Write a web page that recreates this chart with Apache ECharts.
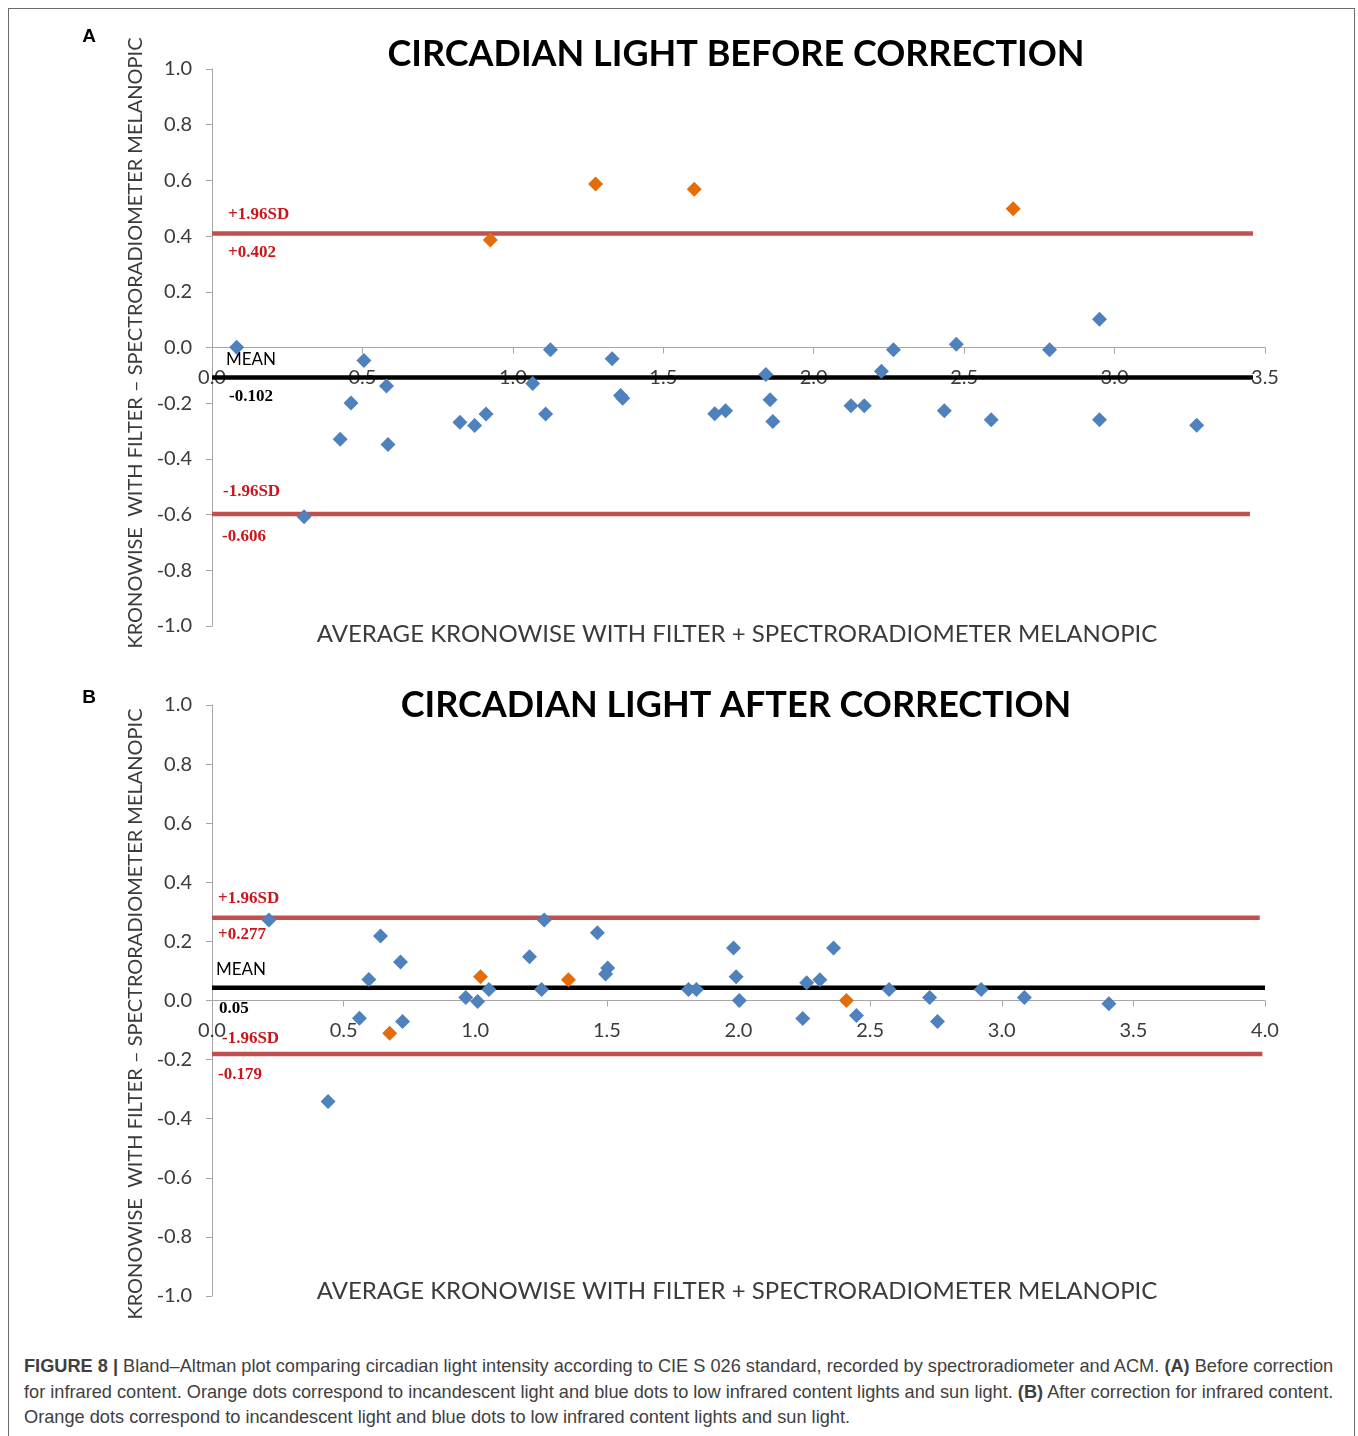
<!DOCTYPE html>
<html>
<head>
<meta charset="utf-8">
<script src="https://cdn.jsdelivr.net/npm/echarts@6/dist/echarts.min.js"></script>
<style>
  html, body { margin: 0; padding: 0; background: #fff; }
  #frame { position: absolute; left: 8px; top: 8px; width: 1347px; height: 1440px; border: 1px solid #6b6b6b; box-sizing: border-box; }
  #chart { position: absolute; left: 0; top: 0; width: 1358px; height: 1340px; }
  #caption { position: absolute; left: 24px; top: 1354px; width: 1330px; font-family: "Liberation Sans", Arial, sans-serif; font-size: 18.2px; line-height: 25.5px; color: #404040; white-space: nowrap; }
</style>
</head>
<body>
<div id="frame"></div>
<div id="chart"></div>
<div id="caption"><b>FIGURE 8 |</b> Bland–Altman plot comparing circadian light intensity according to CIE S 026 standard, recorded by spectroradiometer and ACM. <b>(A)</b> Before correction<br>for infrared content. Orange dots correspond to incandescent light and blue dots to low infrared content lights and sun light. <b>(B)</b> After correction for infrared content.<br>Orange dots correspond to incandescent light and blue dots to low infrared content lights and sun light.</div>
<script>
// ---------- DATA ----------
const titleA = 'CIRCADIAN LIGHT BEFORE CORRECTION';
const titleB = 'CIRCADIAN LIGHT AFTER CORRECTION';
const xAxisTitle = 'AVERAGE KRONOWISE WITH FILTER + SPECTRORADIOMETER MELANOPIC';
const yAxisTitle = 'KRONOWISE  WITH FILTER \u2013 SPECTRORADIOMETER MELANOPIC';

// Panel A: [average, difference]
const blueA = [
  [0.082, 0.001], [0.306, -0.608], [0.426, -0.329], [0.462, -0.199], [0.505, -0.047],
  [0.580, -0.138], [0.585, -0.348], [0.824, -0.268], [0.873, -0.280], [0.911, -0.239],
  [1.066, -0.129], [1.109, -0.239], [1.125, -0.008], [1.330, -0.040], [1.358, -0.172],
  [1.365, -0.182], [1.671, -0.238], [1.707, -0.227], [1.841, -0.097], [1.855, -0.188],
  [1.864, -0.266], [2.124, -0.209], [2.168, -0.209], [2.225, -0.085], [2.265, -0.008],
  [2.434, -0.227], [2.474, 0.012], [2.590, -0.259], [2.784, -0.008], [2.950, 0.101],
  [2.950, -0.259], [3.273, -0.279]
];
const orangeA = [[0.925, 0.386], [1.275, 0.587], [1.603, 0.568], [2.663, 0.498]];

// Panel B
const blueB = [
  [0.216, 0.272], [0.441, -0.342], [0.560, -0.060], [0.596, 0.071], [0.640, 0.218],
  [0.716, 0.130], [0.724, -0.071], [0.964, 0.010], [1.009, -0.003], [1.052, 0.037],
  [1.206, 0.148], [1.252, 0.037], [1.262, 0.272], [1.464, 0.229], [1.495, 0.090],
  [1.503, 0.110], [1.810, 0.037], [1.840, 0.037], [1.981, 0.178], [1.991, 0.080],
  [2.003, 0.000], [2.244, -0.061], [2.259, 0.060], [2.309, 0.070], [2.361, 0.178],
  [2.448, -0.051], [2.572, 0.037], [2.726, 0.010], [2.756, -0.071], [2.922, 0.037],
  [3.086, 0.010], [3.407, -0.011]
];
const orangeB = [[0.675, -0.111], [1.020, 0.080], [1.354, 0.070], [2.410, 0.000]];

// Limit lines: upper (+1.96SD), mean, lower (-1.96SD)
const limitsA = [0.409, -0.108, -0.598];
const limitEndA = [3.46, 3.46, 3.45];
const limitNames = ['+1.96SD', 'MEAN', '-1.96SD'];
const limitValueLabelsA = ['+0.402', '-0.102', '-0.606'];

const limitsB = [0.280, 0.043, -0.181];
const limitEndB = [3.98, 4.0, 3.99];
const limitValueLabelsB = ['+0.277', '0.05', '-0.179'];

const xMaxA = 3.5, xMaxB = 4.0;
const yMin = -1.0, yMax = 1.0;

// ---------- STYLE ----------
const FONT = 'Lato, "Open Sans", sans-serif';
const SERIF = '"Liberation Serif", "DejaVu Serif", serif';
const BLUE = '#4F81BD', ORANGE = '#E46C0A', RED = '#C0504D', LABELRED = '#C8161D';
const AXISGRAY = '#a6a6a6', TEXTGRAY = '#3b3b3b';

const grids = [
  { left: 212, top: 69, width: 1053, height: 557 },
  { left: 212, top: 705, width: 1053, height: 591 }
];

const chart = echarts.init(document.getElementById('chart'), null, { renderer: 'canvas' });

function xAxisCfg(gridIndex, max) {
  // place the x axis where y = 0 (through the y scale range)
  const zeroOffset = -grids[gridIndex].height * (0 - yMin) / (yMax - yMin);
  return {
    type: 'value', gridIndex, min: 0, max, interval: 0.5, position: 'bottom', offset: zeroOffset,
    axisLine: { onZero: false, lineStyle: { color: AXISGRAY, width: 1 } },
    axisTick: { show: true, length: 6, lineStyle: { color: AXISGRAY } },
    axisLabel: { margin: 20, fontSize: 20, fontFamily: FONT, color: TEXTGRAY, showMinLabel: true, showMaxLabel: true,
      formatter: v => v.toFixed(1) },
    splitLine: { show: false }
  };
}
function yAxisCfg(gridIndex) {
  return {
    type: 'value', gridIndex, min: yMin, max: yMax, interval: 0.2,
    axisLine: { show: true, onZero: false, lineStyle: { color: AXISGRAY, width: 1 } },
    axisTick: { show: true, length: 6, lineStyle: { color: AXISGRAY } },
    axisLabel: { margin: 20, fontSize: 20, fontFamily: FONT, color: TEXTGRAY, formatter: v => v.toFixed(1) },
    splitLine: { show: false }
  };
}

// label offsets [dx, dy] for name (above) and value (below) of each limit line
const offA = [[[11, -19], [11, 19]], [[9, -18], [12, 19]], [[6, -22], [5, 23]]];
const offB = [[[1, -19], [1, 17]], [[-1, -18], [2, 21]], [[5, -15], [1, 21]]];

function limitSeries(idx, limits, ends, valueLabels, offs) {
  return limits.map((v, i) => {
    const isMean = i === 1;
    const color = isMean ? '#000' : RED;
    const nameStyle = isMean
      ? { fontFamily: FONT, fontSize: 17, color: '#000', fontWeight: 'normal' }
      : { fontFamily: SERIF, fontSize: 17, color: LABELRED, fontWeight: 'bold' };
    const valStyle = isMean
      ? { fontFamily: SERIF, fontSize: 17, color: '#000', fontWeight: 'bold' }
      : { fontFamily: SERIF, fontSize: 17, color: LABELRED, fontWeight: 'bold' };
    return {
      type: 'line', xAxisIndex: idx, yAxisIndex: idx, z: 3, silent: true,
      symbol: 'none', animation: false,
      lineStyle: { color, width: 4.5 },
      data: [[0, v], [ends[i], v]],
      markPoint: {
        symbol: 'circle', symbolSize: 0, silent: true, animation: false,
        data: [
          { coord: [0, v], label: Object.assign({ show: true, position: 'right', distance: 5, offset: offs[i][0], formatter: limitNames[i] }, nameStyle) },
          { coord: [0, v], label: Object.assign({ show: true, position: 'right', distance: 5, offset: offs[i][1], formatter: valueLabels[i] }, valStyle) }
        ]
      }
    };
  });
}

function scatterSeries(idx, data, color) {
  return {
    type: 'scatter', xAxisIndex: idx, yAxisIndex: idx, z: 5, animation: false,
    symbol: 'diamond', symbolSize: 15,
    itemStyle: { color, opacity: 1 },
    data
  };
}

const texts = [];
function addText(x, y, text, font, opts) {
  texts.push(Object.assign({
    type: 'text', x, y, silent: true,
    style: Object.assign({ text, fill: '#000', align: 'center', verticalAlign: 'middle' }, font)
  }, opts || {}));
}
// panel letters
addText(89, 37, 'A', { fontFamily: '"Liberation Sans", Arial, sans-serif', fontSize: 19, fontWeight: 'bold' });
addText(89, 698, 'B', { fontFamily: '"Liberation Sans", Arial, sans-serif', fontSize: 19, fontWeight: 'bold' });
// titles
addText(736, 54, titleA, { fontFamily: FONT, fontSize: 36, fontWeight: 'bold' });
addText(736, 705, titleB, { fontFamily: FONT, fontSize: 36, fontWeight: 'bold' });
// x axis names
addText(737, 634, xAxisTitle, { fontFamily: FONT, fontSize: 24, fill: TEXTGRAY });
addText(737, 1291, xAxisTitle, { fontFamily: FONT, fontSize: 24, fill: TEXTGRAY });
// y axis names (rotated)
addText(136, 343, yAxisTitle, { fontFamily: FONT, fontSize: 20, fill: TEXTGRAY }, { rotation: Math.PI / 2 });
addText(136, 1014, yAxisTitle, { fontFamily: FONT, fontSize: 20, fill: TEXTGRAY }, { rotation: Math.PI / 2 });

const option = {
  animation: false,
  backgroundColor: 'transparent',
  grid: grids,
  xAxis: [xAxisCfg(0, xMaxA), xAxisCfg(1, xMaxB)],
  yAxis: [yAxisCfg(0), yAxisCfg(1)],
  graphic: texts,
  series: [
    ...limitSeries(0, limitsA, limitEndA, limitValueLabelsA, offA),
    ...limitSeries(1, limitsB, limitEndB, limitValueLabelsB, offB),
    scatterSeries(0, blueA, BLUE),
    scatterSeries(0, orangeA, ORANGE),
    scatterSeries(1, blueB, BLUE),
    scatterSeries(1, orangeB, ORANGE)
  ]
};
chart.setOption(option);
</script>
</body>
</html>
